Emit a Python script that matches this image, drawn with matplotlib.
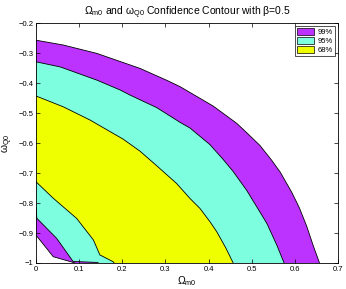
import matplotlib
matplotlib.use("Agg")
import matplotlib.pyplot as plt
from matplotlib.patches import Patch

plt.rcParams["font.family"] = ["Liberation Sans", "DejaVu Sans"]
plt.rcParams["mathtext.fontset"] = "custom"
plt.rcParams["mathtext.rm"] = "Liberation Sans"
plt.rcParams["mathtext.it"] = "Liberation Sans"

# contour boundaries (Omega_m0, omega_Q0)
outer99_x = [0.0, 0.063, 0.141, 0.241, 0.305, 0.334, 0.411, 0.465, 0.488, 0.519,
             0.546, 0.566, 0.593, 0.610, 0.627, 0.642, 0.657]
outer99_y = [-0.257, -0.273, -0.301, -0.351, -0.392, -0.412, -0.477, -0.534, -0.565, -0.608,
             -0.657, -0.697, -0.765, -0.815, -0.876, -0.94, -1.0]

outer95_x = [0.0, 0.056, 0.141, 0.195, 0.218, 0.280, 0.334, 0.357, 0.403, 0.434,
             0.457, 0.488, 0.519, 0.535, 0.558, 0.575]
outer95_y = [-0.329, -0.346, -0.39, -0.423, -0.440, -0.482, -0.531, -0.550, -0.605, -0.655,
             -0.695, -0.757, -0.83, -0.868, -0.94, -1.0]

outer68_x = [0.0, 0.063, 0.125, 0.202, 0.241, 0.280, 0.326, 0.357, 0.380, 0.403,
             0.419, 0.440, 0.457]
outer68_y = [-0.443, -0.479, -0.523, -0.587, -0.627, -0.676, -0.735, -0.785, -0.818, -0.862,
             -0.896, -0.95, -1.0]

inner68_x = [0.0, 0.040, 0.094, 0.133, 0.148, 0.179, 0.181]
inner68_y = [-0.729, -0.784, -0.851, -0.923, -0.973, -0.996, -1.0]

inner95_x = [0.0, 0.002, 0.048, 0.086, 0.14, 0.145]
inner95_y = [-0.815, -0.851, -0.918, -0.995, -0.998, -1.0]

inner99_x = [0.0, 0.040, 0.086, 0.09]
inner99_y = [-0.907, -0.979, -0.998, -1.0]

levels = ["99%", "95%", "68%"]
purple = "#BC33FF"
cyan = "#7DFFDF"
yellow = "#F0FF00"

fig = plt.figure(figsize=(3.46, 2.89), dpi=100)
ax = fig.add_axes([0.104, 0.09, 0.873, 0.83])

corner = (0.0, -1.0)
layers = [
    (outer99_x, outer99_y, purple),
    (outer95_x, outer95_y, cyan),
    (outer68_x, outer68_y, yellow),
    (inner68_x, inner68_y, cyan),
    (inner95_x, inner95_y, purple),
    (inner99_x, inner99_y, "white"),
]
for xs, ys, col in layers:
    ax.fill(list(xs) + [corner[0]], list(ys) + [corner[1]], color=col, lw=0)
for xs, ys, col in layers:
    ax.plot(xs, ys, color="black", lw=0.6)

ax.set_xlim(0, 0.7)
ax.set_ylim(-1, -0.2)
ax.set_xticks([0, 0.1, 0.2, 0.3, 0.4, 0.5, 0.6, 0.7])
ax.set_xticklabels(["0", "0.1", "0.2", "0.3", "0.4", "0.5", "0.6", "0.7"])
ax.set_yticks([-1, -0.9, -0.8, -0.7, -0.6, -0.5, -0.4, -0.3, -0.2])
ax.set_yticklabels(["\u22121", "\u22120.9", "\u22120.8", "\u22120.7", "\u22120.6",
                    "\u22120.5", "\u22120.4", "\u22120.3", "\u22120.2"])
ax.tick_params(direction="in", length=3, width=0.5, labelsize=5.5,
               top=True, right=True, pad=2)
for s in ax.spines.values():
    s.set_linewidth(0.6)

ax.set_title(r"$\Omega_{m0}$ and $\omega_{Q0}$ Confidence Contour with $\beta$=0.5",
             fontsize=7.5, pad=6)
ax.set_xlabel(r"$\Omega_{m0}$", fontsize=7.5, labelpad=1)
ax.set_ylabel(r"$\omega_{Q0}$", fontsize=7.5, labelpad=2)

handles = [Patch(facecolor=c, edgecolor="black", lw=0.5) for c in (purple, cyan, yellow)]
leg = ax.legend(handles, levels, loc="upper right", fontsize=5.5, frameon=True,
                fancybox=False, edgecolor="black", handlelength=2.2, handleheight=0.9,
                borderpad=0.3, labelspacing=0.15, handletextpad=0.5, borderaxespad=0.4)
leg.get_frame().set_linewidth(0.6)

fig.savefig("out.png", dpi=100)
